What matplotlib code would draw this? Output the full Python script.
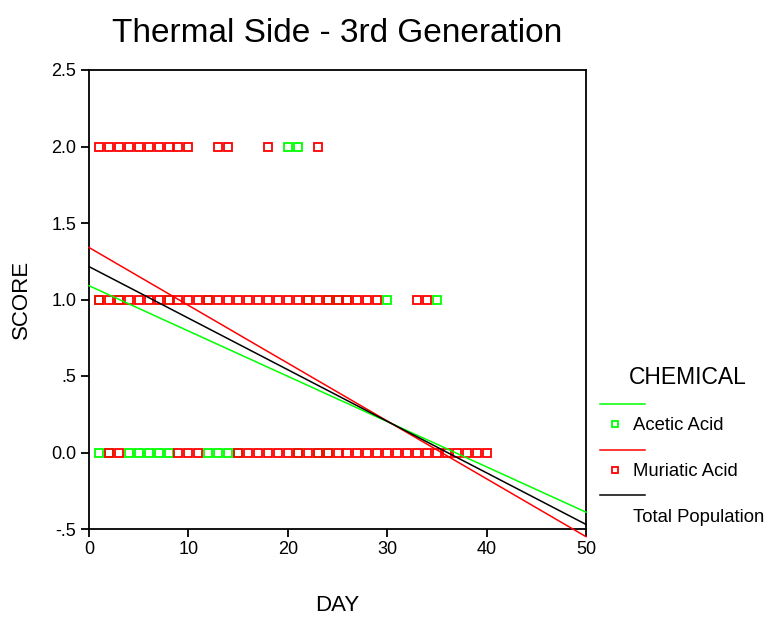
import matplotlib
matplotlib.use("Agg")
import matplotlib.pyplot as plt
from matplotlib.lines import Line2D
import numpy as np

plt.rcParams['font.family'] = ['Liberation Sans', 'DejaVu Sans']

# data (DAY, SCORE) per chemical
acetic_day = [20, 21,
              1, 3, 8, 12, 22, 24, 25, 26, 30, 35,
              1, 2, 4, 5, 6, 7, 8, 12, 13, 14, 15, 21, 23, 24]
acetic_score = [2, 2,
                1, 1, 1, 1, 1, 1, 1, 1, 1, 1,
                0, 0, 0, 0, 0, 0, 0, 0, 0, 0, 0, 0, 0, 0]

muriatic_day = ([1, 2, 3, 4, 5, 6, 7, 8, 9, 10, 13, 14, 18, 23]
                + list(range(1, 30)) + [33, 34]
                + [2, 3, 9, 10, 11] + list(range(15, 41)))
muriatic_score = [2] * 14 + [1] * 31 + [0] * 31

# fit lines: intercept at DAY 0, slope per day
fit_names = ['Acetic Acid', 'Muriatic Acid', 'Total Population']
fit_intercept = [1.09, 1.34, 1.215]
fit_slope = [-0.0296, -0.0378, -0.0337]
fit_colors = ['#00ff00', '#ff0000', '#000000']

y_ticks = [-0.5, 0.0, 0.5, 1.0, 1.5, 2.0, 2.5]
y_labels = ['-.5', '0.0', '.5', '1.0', '1.5', '2.0', '2.5']
x_ticks = [0, 10, 20, 30, 40, 50]

fig = plt.figure(figsize=(7.68, 6.17), dpi=100)
ax = fig.add_axes([89 / 768, 1 - 529 / 617, (586 - 89) / 768, (529 - 70) / 617])

mk = dict(marker='s', linestyle='none', markersize=5.8, markerfacecolor='none',
          markeredgewidth=1.3)
ax.plot(acetic_day, acetic_score, markeredgecolor='#00ff00', zorder=2, **mk)
ax.plot(muriatic_day, muriatic_score, markeredgecolor='#ff0000', zorder=3, **mk)

xx = np.array([0, 50])
for b, m, c in zip(fit_intercept, fit_slope, fit_colors):
    ax.plot(xx, b + m * xx, color=c, lw=1.1, zorder=4, clip_on=False)

ax.set_xlim(0, 50)
ax.set_ylim(-0.5, 2.5)
ax.set_xticks(x_ticks)
ax.set_yticks(y_ticks)
ax.set_yticklabels(y_labels)
ax.tick_params(direction='out', length=6, width=1.3, labelsize=13, pad=3)
for s in ax.spines.values():
    s.set_linewidth(1.3)

ax.set_xlabel('DAY', fontsize=16, labelpad=26)
ax.set_ylabel('SCORE', fontsize=16, labelpad=14)
ax.set_title('Thermal Side - 3rd Generation', fontsize=24, pad=20)

# legend, SPSS style: line row, then marker + name row
W, H = 768.0, 617.0
fig.text(688 / W, 1 - 377 / H, 'CHEMICAL', fontsize=16.5, ha='center', va='center')
rows = [(404, 426), (450, 472), (495, 518)]
for i, (ly, ty) in enumerate(rows):
    fig.add_artist(Line2D([600 / W, 645 / W], [1 - ly / H, 1 - ly / H],
                          color=fit_colors[i], lw=1.1, transform=fig.transFigure))
    if i < 2:
        fig.add_artist(Line2D([615 / W], [1 - (ty - 2) / H], marker='s', markersize=5,
                              markerfacecolor='none', markeredgecolor=fit_colors[i],
                              markeredgewidth=1.3, linestyle='none',
                              transform=fig.transFigure))
    fig.text(633 / W, 1 - ty / H, fit_names[i], fontsize=13.3, ha='left', va='center')

fig.savefig('out.png', dpi=100)
